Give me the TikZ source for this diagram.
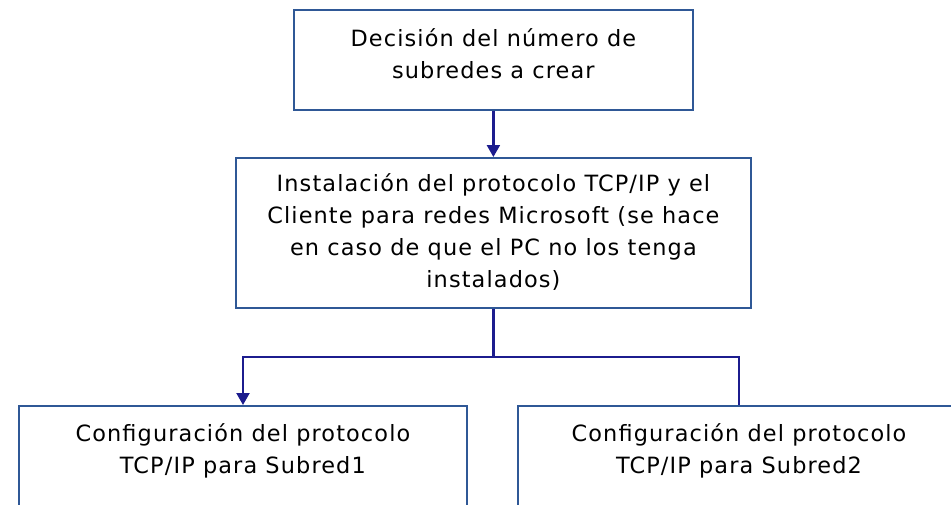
\documentclass[tikz,border=0pt]{standalone}
\usepackage{fontspec}
\setmainfont[LetterSpace=5]{DejaVu Sans}
\usetikzlibrary{arrows.meta, positioning}

\definecolor{boxblue}{HTML}{2F5896}
\definecolor{linknavy}{HTML}{1C1C8E}

\tikzset{
  stepbox/.style={draw=boxblue, line width=1.8pt, fill=white, inner sep=0pt},
  steptext/.style={align=center, font=\fontsize{22.4}{32}\selectfont, inner sep=0pt},
  link/.style={draw=linknavy, line width=2.2pt},
  linkarrow/.style={link, -{Triangle[width=13pt,length=12pt]}},
}

\begin{document}
\begin{tikzpicture}[x=1pt, y=-1pt]
      \clip (0,0) rectangle (951,504);
      % boxes
      \node[stepbox, minimum width=399pt, minimum height=100pt, anchor=north west] (decision) at (293,9) {};
      \node[stepbox, minimum width=515pt, minimum height=150pt, anchor=north west] (install) at (235,157) {};
      \node[stepbox, minimum width=448pt, minimum height=160pt, anchor=north west] (subnet1) at (18,405) {};
      \node[stepbox, minimum width=480pt, minimum height=160pt, anchor=north west] (subnet2) at (517,405) {};
      % texts
      \node[steptext] (decisiontxt) at ([yshift=-45pt]decision.north) {Decisión del número de\\subredes a crear};
      \node[steptext] (installtxt) at ([yshift=1pt]install.center) {Instalación del protocolo TCP/IP y el\\Cliente para redes Microsoft (se hace\\en caso de que el PC no los tenga\\instalados)};
      \node[steptext] (subnet1txt) at ([yshift=-46pt]subnet1.north) {Configuración del protocolo\\TCP/IP para Subred1};
      \node[steptext] (subnet2txt) at (739,451) {Configuración del protocolo\\TCP/IP para Subred2};
      % connectors
      \coordinate (split) at (install.south |- 0,357);
      \coordinate (leftend) at (243,357);
      \coordinate (rightend) at (739,357);
      \draw[linkarrow] (decision.south) -- (install.north);
      \draw[link] (install.south) -- (split);
      \draw[linkarrow] (split) -- (leftend) -- (leftend |- subnet1.north);
      \draw[link] (split) -- (rightend) -- (rightend |- subnet2.north);
\end{tikzpicture}
\end{document}
